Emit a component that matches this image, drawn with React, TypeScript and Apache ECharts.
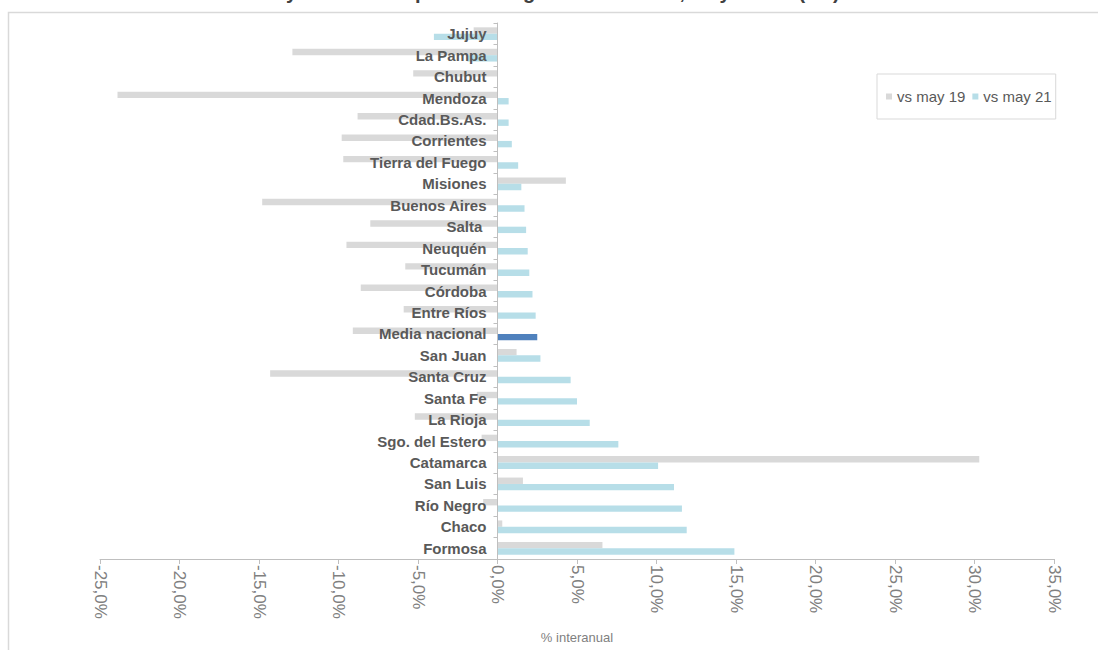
import React, { useEffect, useRef } from "react";
import * as echarts from "echarts";

// Provinces, top to bottom
const provinces = [
  "Jujuy",
  "La Pampa",
  "Chubut",
  "Mendoza",
  "Cdad.Bs.As.",
  "Corrientes",
  "Tierra del Fuego",
  "Misiones",
  "Buenos Aires",
  "Salta ",
  "Neuquén",
  "Tucumán",
  "Córdoba",
  "Entre Ríos",
  "Media nacional",
  "San Juan",
  "Santa Cruz",
  "Santa Fe",
  "La Rioja",
  "Sgo. del Estero",
  "Catamarca",
  "San Luis",
  "Río Negro",
  "Chaco",
  "Formosa",
];

// Year-on-year change, in %
const vsMay19 = [
  -1.5, -12.9, -5.3, -23.9, -8.8, -9.8, -9.7, 4.3, -14.8, -8.0, -9.5, -5.8, -8.6,
  -5.9, -9.1, 1.2, -14.3, -1.3, -5.2, -1.0, 30.3, 1.6, -0.9, 0.3, 6.6,
];
const vsMay21 = [
  -4.0, -1.9, 0.0, 0.7, 0.7, 0.9, 1.3, 1.5, 1.7, 1.8, 1.9, 2.0, 2.2, 2.4, 2.5,
  2.7, 4.6, 5.0, 5.8, 7.6, 10.1, 11.1, 11.6, 11.9, 14.9,
];

const seriesNames = ["vs may 19", "vs may 21"];
const titleText = "Mayo 2022. Comparación regional de ventas, mayo 2022 (i.a.)";
const highlight = "Media nacional";
const xMin = -25;
const xMax = 35;
const xStep = 5;

const GRAY = "#d9d9d9";
const LIGHT_BLUE = "#b7dee8";
const DARK_BLUE = "#4f81bd";
const FONT = "'Liberation Sans', Arial, sans-serif";

const fmt = (v: number) => v.toFixed(1).replace(".", ",") + "%";

export default function App() {
  const ref = useRef<HTMLDivElement>(null);

  useEffect(() => {
    if (!ref.current) return;
    const chart = echarts.init(ref.current, undefined, { renderer: "svg" });
    chart.setOption({
      animation: false,
      backgroundColor: "#ffffff",
      textStyle: { fontFamily: FONT },
      graphic: [
        {
          // Chart heading, running above the top edge of the canvas
          type: "text",
          x: 549,
          y: 2,
          silent: true,
          style: {
            text: titleText,
            align: "center",
            verticalAlign: "bottom",
            fontSize: 20,
            fontWeight: "bold",
            fontFamily: FONT,
            fill: "#404040",
          },
        },
        {
          type: "rect",
          shape: { x: 8.5, y: 12.5, width: 1200, height: 800 },
          style: { fill: "none", stroke: "#d9d9d9", lineWidth: 1.5 },
          silent: true,
          z: -10,
        },
      ],
      legend: {
        data: seriesNames,
        left: 877,
        top: 74,
        width: 180,
        padding: [15, 4, 15, 9],
        itemGap: 7,
        itemWidth: 6,
        itemHeight: 6,
        icon: "rect",
        borderColor: "#d9d9d9",
        borderWidth: 1,
        textStyle: { fontSize: 15, color: "#595959", fontFamily: FONT },
      },
      grid: {
        left: 100,
        right: 44,
        top: 23,
        bottom: 91,
        containLabel: false,
        outerBoundsMode: "none",
      },
      xAxis: {
        type: "value",
        min: xMin,
        max: xMax,
        interval: xStep,
        name: "% interanual",
        nameLocation: "middle",
        nameGap: 72,
        nameTextStyle: { fontSize: 13, color: "#7f7f7f", fontFamily: FONT },
        splitLine: { show: false },
        axisLine: { show: true, lineStyle: { color: "#bfbfbf", width: 1 } },
        axisTick: { show: true, length: 5, lineStyle: { color: "#bfbfbf" } },
        axisLabel: {
          rotate: -90,
          margin: 6,
          fontSize: 17,
          color: "#808080",
          formatter: fmt,
        },
      },
      yAxis: {
        type: "category",
        data: provinces,
        inverse: true,
        z: 10,
        axisLine: { show: true, onZero: false, lineStyle: { color: "#bfbfbf", width: 1 } },
        axisTick: { show: true, length: 4, lineStyle: { color: "#bfbfbf" } },
        axisLabel: {
          margin: 11,
          fontSize: 15,
          fontWeight: "bold",
          color: "#595959",
        },
        splitLine: { show: false },
      },
      series: [
        {
          name: seriesNames[0],
          type: "bar",
          data: vsMay19,
          barWidth: 6.4,
          barGap: "0%",
          itemStyle: { color: GRAY },
        },
        {
          name: seriesNames[1],
          type: "bar",
          data: vsMay21.map((v, i) =>
            provinces[i] === highlight
              ? { value: v, itemStyle: { color: DARK_BLUE } }
              : v
          ),
          barWidth: 6.4,
          barGap: "0%",
          itemStyle: { color: LIGHT_BLUE },
        },
      ],
    });

    // Move the category axis (line, ticks and labels) onto the 0% position
    const zeroPx = chart.convertToPixel({ xAxisIndex: 0 }, 0) as number;
    const leftPx = chart.convertToPixel({ xAxisIndex: 0 }, xMin) as number;
    chart.setOption({ yAxis: { offset: -(zeroPx - leftPx) } });

    return () => chart.dispose();
  }, []);

  return (
    <div
      ref={ref}
      style={{ position: "fixed", left: 0, top: 0, width: 1098, height: 650 }}
    />
  );
}
